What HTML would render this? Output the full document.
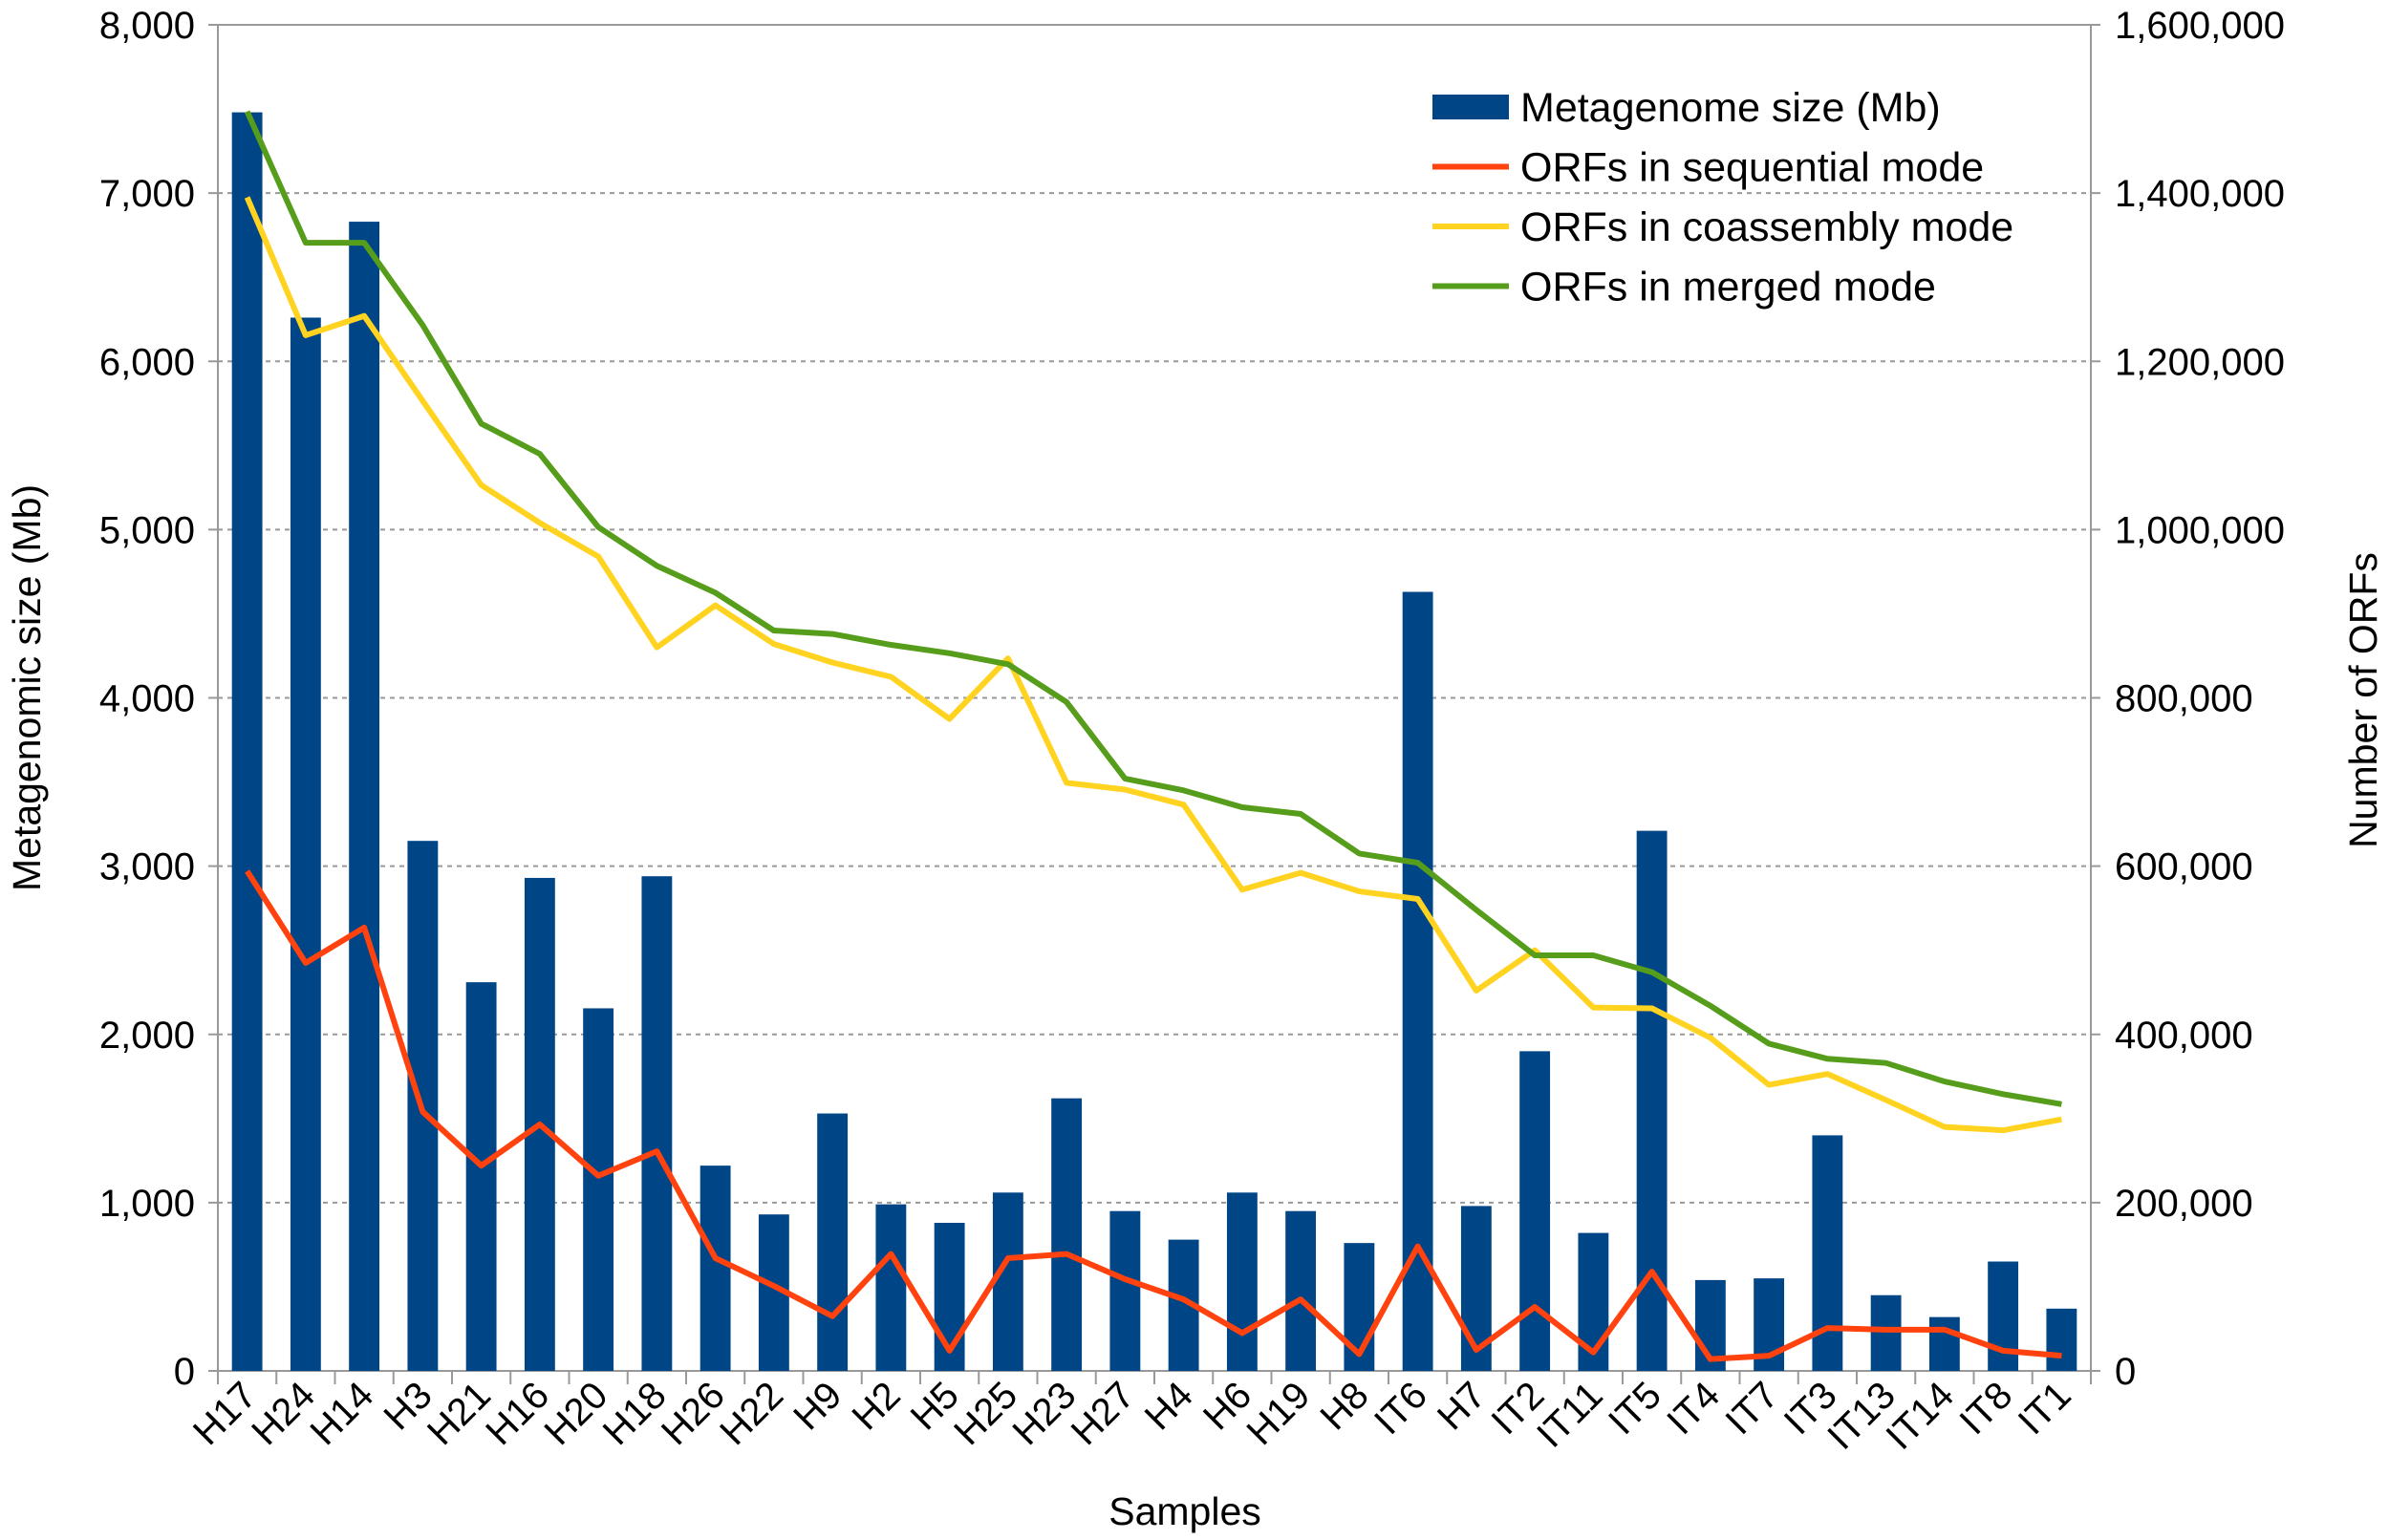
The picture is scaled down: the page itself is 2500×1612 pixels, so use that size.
<!DOCTYPE html>
<html><head><meta charset="utf-8"><style>
html,body{margin:0;padding:0;background:#fff;}
svg{display:block;font-family:"Liberation Sans",Arial,sans-serif;}
</style></head><body>
<svg id="chart" width="2500" height="1612" viewBox="0 0 2500 1612" xmlns="http://www.w3.org/2000/svg"></svg>
<script>
const categories=["H17","H24","H14","H3","H21","H16","H20","H18","H26","H22","H9","H2","H5","H25","H23","H27","H4","H6","H19","H8","IT6","H7","IT2","IT11","IT5","IT4","IT7","IT3","IT13","IT14","IT8","IT1"];
const sizeMb=[7480,6260,6830,3150,2310,2930,2155,2940,1220,930,1530,990,880,1060,1620,950,780,1060,950,760,4630,980,1900,820,3210,540,550,1400,450,320,650,370];
const orfSeq=[594000,485000,527000,308000,244000,293000,232000,261000,134000,101000,65000,139000,24000,134000,139000,109000,85000,45000,85000,20000,148000,25000,76000,22000,118000,14000,18000,51000,49000,49000,24000,18000];
const orfCo=[1395000,1231000,1254000,1153000,1053000,1008000,968000,860000,910000,864000,842000,825000,775000,847000,699000,691000,673000,572000,592000,570000,561000,452000,500000,432000,431000,396000,340000,353000,322000,290000,286000,299000];
const orfMerged=[1497000,1341000,1341000,1243000,1126000,1090000,1003000,957000,925000,880000,876000,863000,853000,840000,795000,704000,690000,670000,662000,615000,604000,548000,494000,494000,474000,434000,389000,371000,366000,344000,329000,317000];
const leftTicks=["0","1,000","2,000","3,000","4,000","5,000","6,000","7,000","8,000"];
const rightTicks=["0","200,000","400,000","600,000","800,000","1,000,000","1,200,000","1,400,000","1,600,000"];

const NS="http://www.w3.org/2000/svg";
const svg=document.getElementById('chart');
const L=228,R=2188,T=26,B=1435;
const step=(R-L)/categories.length;
const xc=i=>L+step*(i+0.5);
const yL=v=>B-(v/8000)*(B-T);
const yR=v=>B-(v/1600000)*(B-T);
function mk(tag,attrs,parent){const e=document.createElementNS(NS,tag);for(const k in attrs)e.setAttribute(k,attrs[k]);(parent||svg).appendChild(e);return e;}

for(let i=1;i<leftTicks.length;i++){
  const y=yL(i*1000);
  const g=mk('line',{x1:L,x2:R,y1:y,y2:y,stroke:'#999','stroke-width':2,'stroke-dasharray':i===8?'none':'5,5'});
  
  
}
const ax=mk('path',{d:`M${L-10},${B}H${R+10}M${L},${T}V${B}M${R},${T}V${B}`,stroke:'#999','stroke-width':2,fill:'none'});


for(let i=0;i<leftTicks.length;i++){
  const y=yL(i*1000);
  mk('line',{x1:L-10,x2:L,y1:y,y2:y,stroke:'#999','stroke-width':2});
  mk('line',{x1:R,x2:R+10,y1:y,y2:y,stroke:'#999','stroke-width':2});
  const t=mk('text',{x:204,y:y+14,'text-anchor':'end','font-size':40,fill:'#000'});t.textContent=leftTicks[i];
  
  
  const t2=mk('text',{x:2213,y:y+14,'font-size':40,fill:'#000'});t2.textContent=rightTicks[i];
  
  
}
for(let i=0;i<=categories.length;i++){
  const x=L+step*i;
  mk('line',{x1:x,x2:x,y1:B,y2:B+14,stroke:'#999','stroke-width':2});
}
const bw=step*0.52;
sizeMb.forEach((v,i)=>{
  const r=mk('rect',{x:xc(i)-bw/2,y:yL(v),width:bw,height:B-yL(v),fill:'#004586'});
  
  
});
function line(arr,color,name){
  const p=mk('polyline',{points:arr.map((v,i)=>xc(i)+','+yR(v)).join(' '),fill:'none',stroke:color,'stroke-width':6,'stroke-linejoin':'round'});
  
  
}
line(orfCo,'#ffd320','line-coassembly');
line(orfMerged,'#579d1c','line-merged');
line(orfSeq,'#ff420e','line-sequential');
categories.forEach((c,i)=>{
  const x=xc(i)+12,y=B+28;
  const t=mk('text',{x:x,y:y,'text-anchor':'end','font-size':40,fill:'#000',transform:`rotate(-45 ${x} ${y})`});
  t.textContent=c;
  
  
});
let t=mk('text',{x:1240,y:1596,'text-anchor':'middle','font-size':41});t.textContent='Samples';


t=mk('text',{x:42,y:720,'text-anchor':'middle','font-size':41,transform:'rotate(-90 42 720)'});t.textContent='Metagenomic size (Mb)';


t=mk('text',{x:2487,y:733,'text-anchor':'middle','font-size':41,transform:'rotate(-90 2487 733)'});t.textContent='Number of ORFs';


const leg=[['Metagenome size (Mb)','#004586','bar'],['ORFs in sequential mode','#ff420e','line'],['ORFs in coassembly mode','#ffd320','line'],['ORFs in merged mode','#579d1c','line']];
leg.forEach((l,i)=>{
  const y=112+i*62.5;
  if(l[2]==='bar'){const s=mk('rect',{x:1499,y:y-13,width:80,height:26,fill:l[1]});}
  else{const s=mk('line',{x1:1499,x2:1579,y1:y,y2:y,stroke:l[1],'stroke-width':6});}
  const tx=mk('text',{x:1591,y:y+15,'font-size':43});tx.textContent=l[0];
  
  
});
</script>
</body></html>
